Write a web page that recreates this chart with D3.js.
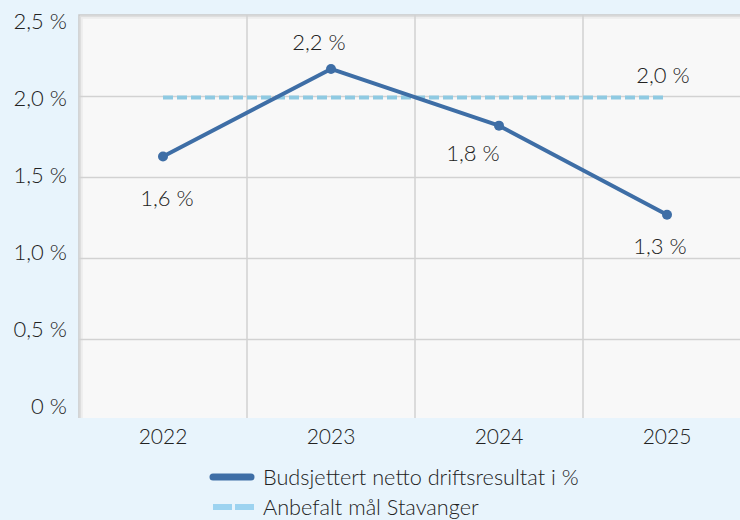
<!DOCTYPE html>
<html>
<head>
<meta charset="utf-8">
<script src="https://cdn.jsdelivr.net/npm/d3@7"></script>
<style>
  body { margin: 0; background: #e8f4fc; }
  svg { display: block; font-family: Lato, "Open Sans", sans-serif; font-weight: 300; }
</style>
</head>
<body>
<div id="chart"></div>
<script>
// chart data
const years = ['2022', '2023', '2024', '2025'];
const budsjettert = [1.63, 2.17, 1.82, 1.27];
const budsjettertLabels = ['1,6 %', '2,2 %', '1,8 %', '1,3 %'];
const anbefalt = [2.0, 2.0, 2.0, 2.0];
const anbefaltLabel = '2,0 %';
const yTicks = [0, 0.5, 1.0, 1.5, 2.0, 2.5];
const yTickLabels = ['0 %', '0,5 %', '1,0 %', '1,5 %', '2,0 %', '2,5 %'];
const legendNames = ['Budsjettert netto driftsresultat i %', 'Anbefalt mål Stavanger'];

const width = 740, height = 520;
const plot = {left: 79, right: 751, top: 15, bottom: 418};

const svg = d3.select('#chart').append('svg')
    .attr('width', width)
    .attr('height', height);

const x = d3.scaleBand()
    .domain(years)
    .range([plot.left, plot.right]);

const y = d3.scaleLinear()
    .domain([0, 2.5])
    .range([420.5, 15.5]);

// tick labels sit a bit tighter than the gridlines in the original
const yLabel = d3.scaleLinear()
    .domain([0, 2.5])
    .range([406.5, 21.5]);

// plot area
svg.append('rect')
    .attr('x', plot.left)
    .attr('y', plot.top)
    .attr('width', plot.right - plot.left)
    .attr('height', plot.bottom - plot.top)
    .attr('fill', '#f8f8f8');

// soft edge on left and top
[['#c9c9c9', 0], ['#dedede', 1.5], ['#ececec', 3]].forEach(([c, o]) => {
  svg.append('path')
    .attr('d', `M${plot.left + o},${plot.bottom} V${plot.top + o} H${plot.right}`)
    .attr('fill', 'none')
    .attr('stroke', c)
    .attr('stroke-width', 1.5);
});

// horizontal gridlines
svg.append('g')
  .selectAll('line')
  .data(yTicks.filter(t => t > 0 && t < 2.5))
  .join('line')
    .attr('x1', plot.left)
    .attr('x2', plot.right)
    .attr('y1', d => y(d))
    .attr('y2', d => y(d))
    .attr('stroke', '#d2d2d2')
    .attr('stroke-width', 1.5);

// vertical gridlines at band edges
svg.append('g')
  .selectAll('line')
  .data(years.slice(1))
  .join('line')
    .attr('x1', d => x(d))
    .attr('x2', d => x(d))
    .attr('y1', plot.top)
    .attr('y2', plot.bottom)
    .attr('stroke', '#d2d2d2')
    .attr('stroke-width', 1.5);

// y axis labels
const yAxis = svg.append('g')
    .attr('transform', `translate(${plot.left - 12}, 0)`)
    .call(d3.axisLeft(yLabel)
      .tickValues(yTicks)
      .tickSize(0)
      .tickPadding(0)
      .tickFormat((d, i) => yTickLabels[i]));
yAxis.select('.domain').remove();
yAxis.selectAll('text')
    .attr('fill', '#222')
    .style('font-size', '22px')
    .style('font-family', 'Lato, sans-serif')
    .style('font-weight', 300);

// x axis labels
const xAxis = svg.append('g')
    .attr('transform', `translate(0, ${plot.bottom + 11})`)
    .call(d3.axisBottom(x).tickSize(0).tickPadding(0));
xAxis.select('.domain').remove();
xAxis.selectAll('text')
    .attr('fill', '#222')
    .style('font-size', '21px')
    .style('font-family', 'Lato, sans-serif')
    .style('font-weight', 300);

const cx = d => x(d) + x.bandwidth() / 2;

// anbefalt dashed line
const anbefaltData = years.map((yr, i) => ({year: yr, value: anbefalt[i]}));
svg.append('path')
    .datum(anbefaltData)
    .attr('fill', 'none')
    .attr('stroke', '#8fcae2')
    .attr('stroke-width', 4)
    .attr('stroke-dasharray', '10 4')
    .attr('transform', 'translate(0, 1)')
    .attr('d', d3.line().x(d => cx(d.year)).y(d => y(d.value)));

// budsjettert line
const budData = years.map((yr, i) => ({year: yr, value: budsjettert[i], label: budsjettertLabels[i]}));
svg.append('path')
    .datum(budData)
    .attr('fill', 'none')
    .attr('stroke', '#3e6ea6')
    .attr('stroke-width', 4)
    .attr('stroke-linejoin', 'round')
    .attr('d', d3.line().x(d => cx(d.year)).y(d => y(d.value)));

svg.append('g')
  .selectAll('circle')
  .data(budData)
  .join('circle')
    .attr('cx', d => cx(d.year))
    .attr('cy', d => y(d.value))
    .attr('r', 5)
    .attr('fill', '#3e6ea6');

// data labels
const labelOffsets = [[4, 41], [-12, -27], [-26, 27], [-7, 31]];
svg.append('g')
  .selectAll('text')
  .data(budData)
  .join('text')
    .attr('x', (d, i) => cx(d.year) + labelOffsets[i][0])
    .attr('y', (d, i) => y(d.value) + labelOffsets[i][1])
    .attr('text-anchor', 'middle')
    .attr('dominant-baseline', 'central')
    .attr('fill', '#222')
    .style('font-size', '22px')
    .text(d => d.label);

const lastAnb = anbefaltData[anbefaltData.length - 1];
svg.append('text')
    .attr('x', cx(lastAnb.year) - 4)
    .attr('y', y(lastAnb.value) - 22)
    .attr('text-anchor', 'middle')
    .attr('dominant-baseline', 'central')
    .attr('fill', '#222')
    .style('font-size', '22px')
    .text(anbefaltLabel);

// legend
const rowGap = 30;
const legend = svg.append('g').attr('transform', 'translate(210, 477)');
legend.append('line')
    .attr('x1', 3).attr('x2', 41)
    .attr('y1', 0).attr('y2', 0)
    .attr('stroke', '#3e6ea6')
    .attr('stroke-width', 7)
    .attr('stroke-linecap', 'round');
legend.append('line')
    .attr('x1', 3).attr('x2', 44)
    .attr('y1', rowGap).attr('y2', rowGap)
    .attr('stroke', '#9dd3f0')
    .attr('stroke-width', 6)
    .attr('stroke-dasharray', '19 3');
legend.selectAll('text')
  .data(legendNames)
  .join('text')
    .attr('x', 53)
    .attr('y', (d, i) => i * rowGap)
    .attr('dominant-baseline', 'central')
    .attr('fill', '#222')
    .style('font-size', '21.7px')
    .text(d => d);
</script>
</body>
</html>
